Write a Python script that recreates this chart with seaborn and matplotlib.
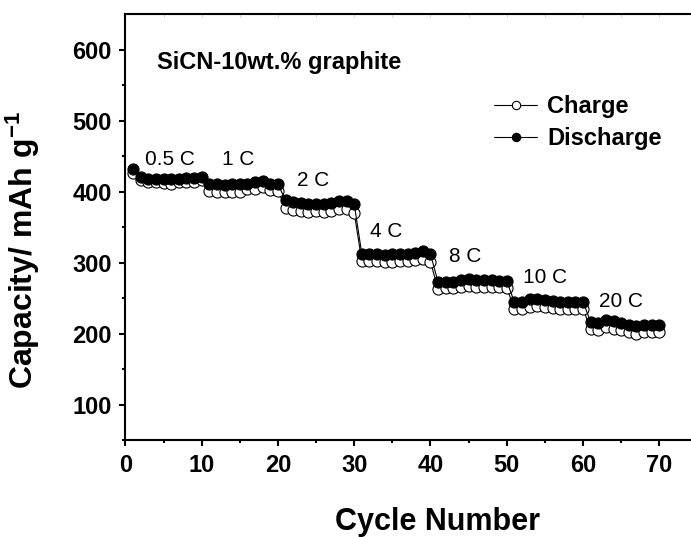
import numpy as np
import pandas as pd
import matplotlib
matplotlib.use("Agg")
import matplotlib.pyplot as plt
from matplotlib.lines import Line2D
import seaborn as sns

# ---- data ----
cycles = list(range(1, 71))
charge = [426, 416, 413, 413, 412, 411, 413, 414, 414, 416,
          401, 400, 399, 400, 400, 403, 404, 407, 402, 401,
          377, 374, 372, 371, 372, 371, 372, 375, 376, 370,
          302, 302, 302, 301, 301, 302, 302, 303, 305, 301,
          262, 264, 264, 265, 267, 266, 265, 265, 265, 264,
          235, 234, 238, 239, 237, 236, 235, 235, 235, 235,
          206, 205, 209, 207, 205, 202, 200, 202, 202, 202]
discharge = [432, 421, 418, 418, 417, 417, 418, 419, 419, 420,
             411, 410, 409, 410, 410, 411, 413, 415, 411, 410,
             388, 385, 384, 382, 383, 382, 384, 386, 387, 382,
             312, 312, 312, 311, 312, 312, 312, 313, 316, 312,
             272, 273, 273, 275, 277, 276, 275, 275, 274, 274,
             244, 245, 248, 248, 247, 246, 245, 245, 245, 245,
             216, 215, 219, 217, 215, 212, 210, 212, 212, 212]
rate_labels = ["0.5 C", "1 C", "2 C", "4 C", "8 C", "10 C", "20 C"]
rate_label_x = [2.6, 12.7, 22.5, 32.1, 42.4, 52.1, 62.1]
rate_label_y = [437, 437, 408, 336, 301, 271, 237]
sample_name = "SiCN-10wt.% graphite"
xticks = [0, 10, 20, 30, 40, 50, 60, 70]
yticks = [100, 200, 300, 400, 500, 600]

df = pd.DataFrame({"cycle": cycles, "charge": charge, "discharge": discharge})

sns.set_style("ticks")
plt.rcParams["font.family"] = ["Liberation Sans", "DejaVu Sans"]
plt.rcParams["mathtext.fontset"] = "custom"
plt.rcParams["mathtext.rm"] = "Liberation Sans"
plt.rcParams["mathtext.bf"] = "Liberation Sans:bold"
plt.rcParams["mathtext.default"] = "bf"
plt.rcParams["text.color"] = "black"
plt.rcParams["axes.labelcolor"] = "black"
plt.rcParams["xtick.color"] = "black"
plt.rcParams["ytick.color"] = "black"
plt.rcParams["axes.edgecolor"] = "black"

fig = plt.figure(figsize=(6.91, 5.37), dpi=100)
ax = fig.add_axes([0.1815, 0.1806, 0.8278, 0.7933])

sns.lineplot(data=df, x="cycle", y="charge", ax=ax, color="black", lw=0.8,
             marker="o", markersize=8, markerfacecolor="white",
             markeredgecolor="black", markeredgewidth=0.8,
             estimator=None, sort=False, zorder=2)
sns.lineplot(data=df, x="cycle", y="discharge", ax=ax, color="black", lw=0.8,
             marker="o", markersize=8, markerfacecolor="black",
             markeredgecolor="black", markeredgewidth=0.8,
             estimator=None, sort=False, zorder=3)

ax.set_xlim(0, 75)
ax.set_ylim(50, 650)
ax.set_xticks(xticks)
ax.set_yticks(yticks)
ax.set_xticks(np.arange(5, 75, 10), minor=True)
ax.set_yticks(np.arange(50, 650, 100), minor=True)

for s in ax.spines.values():
    s.set_linewidth(1.5)
    s.set_color("black")
    s.set_visible(True)

ax.tick_params(axis="both", which="major", direction="out", length=4.5,
               width=1.5, labelsize=17, pad=5.5, colors="black")
ax.tick_params(axis="both", which="minor", direction="out", length=2.5,
               width=1.5, colors="black")
for lab in ax.get_xticklabels() + ax.get_yticklabels():
    lab.set_fontweight("bold")

# faint inward ticks along the top border
top = ax.secondary_xaxis("top")
top.set_xticks(np.arange(5, 75, 5))
top.tick_params(direction="in", length=2.5, width=0.8, colors="#d0d0d0",
                labeltop=False)
top.spines["top"].set_visible(False)

ax.set_xlabel("Cycle Number", fontsize=22, fontweight="bold")
ax.set_ylabel("Capacity/ mAh g$^{-1}$", fontsize=23, fontweight="bold")
ax.xaxis.label.set_va("center")
ax.xaxis.set_label_coords(0.545, -0.193)
ax.yaxis.set_label_coords(-0.145, 0.445)

ax.text(4.1, 582, sample_name, fontsize=17, fontweight="bold",
        ha="left", va="center", color="black")
for lx, ly, lt in zip(rate_label_x, rate_label_y, rate_labels):
    ax.text(lx, ly, lt, fontsize=15, ha="left", va="baseline", color="black")

h_charge = Line2D([], [], color="black", lw=0.8, marker="o", markersize=6,
                  markerfacecolor="white", markeredgecolor="black",
                  markeredgewidth=0.8)
h_dis = Line2D([], [], color="black", lw=0.8, marker="o", markersize=6,
               markerfacecolor="black", markeredgecolor="black",
               markeredgewidth=0.8)
leg = ax.legend([h_charge, h_dis], ["Charge", "Discharge"],
                loc="upper left", bbox_to_anchor=(0.644, 0.81),
                frameon=False, borderaxespad=0, borderpad=0,
                handlelength=1.85, handletextpad=0.4, labelspacing=0.4,
                prop={"weight": "bold", "size": 17})
for t in leg.get_texts():
    t.set_color("black")

fig.savefig("out.png", dpi=100)
